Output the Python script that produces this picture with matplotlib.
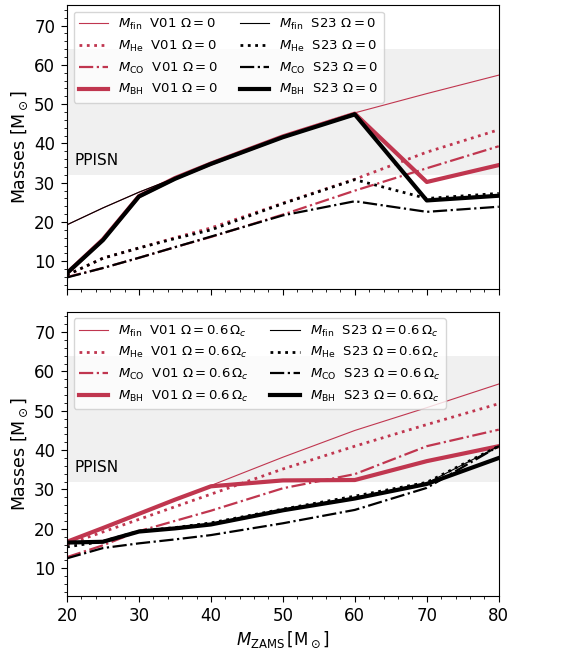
import numpy as np
import matplotlib
matplotlib.use('Agg')
import matplotlib.pyplot as plt
from matplotlib.ticker import AutoMinorLocator

# ZAMS masses
m_zams = [20, 25, 30, 35, 40, 50, 60, 70, 80]

# Omega = 0
fin_v01_0 = [19.3, 23.6, 27.6, 31.2, 34.9, 41.8, 47.8, 52.7, 57.4]
he_v01_0 = [6.5, 10.8, 13.4, 16.0, 18.5, 24.8, 30.9, 37.8, 43.5]
co_v01_0 = [6.0, 8.3, 10.9, 13.6, 16.2, 21.9, 28.0, 33.7, 39.3]
bh_v01_0 = [7.0, 15.6, 26.6, 31.2, 34.9, 41.8, 47.6, 30.2, 34.5]
fin_s23_0 = [19.3, 23.6, 27.6, 31.2, 34.9, 41.8, 47.8, 25.6, 26.8]
he_s23_0 = [6.5, 10.8, 13.4, 15.8, 18.0, 24.7, 30.8, 26.0, 27.3]
co_s23_0 = [5.9, 8.3, 10.9, 13.6, 16.3, 21.7, 25.3, 22.6, 23.9]
bh_s23_0 = [7.0, 15.4, 26.5, 31.0, 34.8, 41.6, 47.4, 25.5, 26.7]

# Omega = 0.6 Omega_c
fin_v01_6 = [16.7, 20.2, 23.8, 27.4, 31.0, 38.2, 45.0, 50.8, 56.8]
he_v01_6 = [16.0, 19.2, 22.4, 25.6, 28.8, 35.2, 41.0, 46.5, 51.8]
co_v01_6 = [12.8, 15.8, 19.4, 22.0, 24.6, 30.3, 33.9, 41.0, 45.2]
bh_v01_6 = [16.7, 20.2, 23.8, 27.4, 30.8, 32.3, 32.4, 37.2, 41.0]
fin_s23_6 = [16.7, 16.9, 19.4, 20.2, 21.3, 24.9, 28.0, 31.6, 41.0]
he_s23_6 = [15.4, 16.8, 19.4, 20.3, 21.5, 25.0, 28.3, 31.8, 41.0]
co_s23_6 = [12.5, 15.1, 16.3, 17.3, 18.4, 21.4, 24.8, 30.4, 41.0]
bh_s23_6 = [16.5, 16.7, 19.3, 20.1, 21.1, 24.7, 27.7, 31.4, 38.0]

red = '#c0364f'
ppisn_lo, ppisn_hi = 32, 64

fig = plt.figure(figsize=(5.7, 6.52), dpi=100)
ax1 = fig.add_axes([0.1175, 0.557, 0.7575, 0.435])
ax2 = fig.add_axes([0.1175, 0.0864, 0.7575, 0.4356], sharex=ax1)


def panel(ax, data, om):
    fin_v, he_v, co_v, bh_v, fin_s, he_s, co_s, bh_s = data
    ax.axhspan(ppisn_lo, ppisn_hi, color='#f0f0f0', zorder=0, lw=0)
    ax.plot(m_zams, fin_v, color=red, lw=0.8, label=r'$M_{\rm fin}$  V01 ' + om)
    ax.plot(m_zams, he_v, color=red, lw=2, ls=':', label=r'$M_{\rm He}$  V01 ' + om)
    ax.plot(m_zams, co_v, color=red, lw=1.6, ls='-.', label=r'$M_{\rm CO}$  V01 ' + om)
    ax.plot(m_zams, bh_v, color=red, lw=3, label=r'$M_{\rm BH}$  V01 ' + om)
    ax.plot(m_zams, fin_s, color='k', lw=0.8, label=r'$M_{\rm fin}$  S23 ' + om)
    ax.plot(m_zams, he_s, color='k', lw=2, ls=':', label=r'$M_{\rm He}$  S23 ' + om)
    ax.plot(m_zams, co_s, color='k', lw=1.6, ls='-.', label=r'$M_{\rm CO}$  S23 ' + om)
    ax.plot(m_zams, bh_s, color='k', lw=3, label=r'$M_{\rm BH}$  S23 ' + om)
    ax.text(21.0, 35.6, 'PPISN', fontsize=11, va='center')
    ax.set_xlim(20, 80)
    ax.set_ylim(3, 75.2)
    ax.set_yticks([10, 20, 30, 40, 50, 60, 70])
    ax.xaxis.set_minor_locator(AutoMinorLocator())
    ax.yaxis.set_minor_locator(AutoMinorLocator())
    ax.tick_params(labelsize=12, pad=4)
    ax.tick_params(which='major', length=4.5)
    ax.tick_params(which='minor', length=2.5)
    ax.set_ylabel(r'Masses $[\rm M_\odot]$', fontsize=12.5, labelpad=3)
    ax.legend(loc='upper left', ncol=2, fontsize=9.5, handlelength=2.2,
              columnspacing=1.6, labelspacing=0.5)


panel(ax1, [fin_v01_0, he_v01_0, co_v01_0, bh_v01_0,
            fin_s23_0, he_s23_0, co_s23_0, bh_s23_0], r'$\Omega = 0$')
panel(ax2, [fin_v01_6, he_v01_6, co_v01_6, bh_v01_6,
            fin_s23_6, he_s23_6, co_s23_6, bh_s23_6], r'$\Omega = 0.6\,\Omega_c$')

ax1.tick_params(labelbottom=False)
ax2.set_xticks([20, 30, 40, 50, 60, 70, 80])
ax2.set_xlabel(r'$M_{\rm ZAMS}\,[\rm M_\odot]$', fontsize=12, labelpad=3)

fig.savefig('out.png', dpi=100)
